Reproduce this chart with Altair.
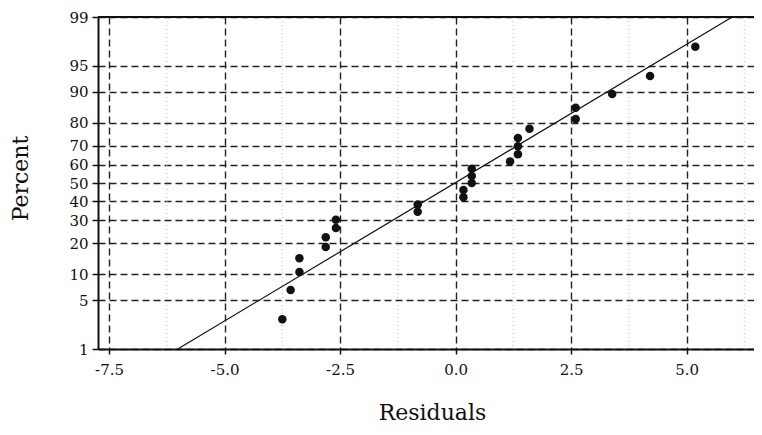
import altair as alt
import pandas as pd
from statistics import NormalDist, mean, stdev

# Residuals, in rank order
residuals = [-3.75, -3.57, -3.38, -3.38, -2.81, -2.81, -2.59, -2.59, -0.82, -0.82,
             0.17, 0.17, 0.35, 0.35, 0.35, 1.18, 1.35, 1.35, 1.35, 1.60,
             2.60, 2.60, 3.39, 4.21, 5.19]
# Percent (probability) positions
percents = [2.8, 6.7, 10.6, 14.6, 18.5, 22.4, 26.4, 30.3, 34.3, 38.2,
            42.1, 46.1, 50.0, 53.9, 57.9, 61.8, 65.7, 69.7, 73.6, 77.6,
            81.5, 85.4, 89.4, 93.3, 97.2]
x_ticks = [-7.5, -5.0, -2.5, 0.0, 2.5, 5.0]
minor_x = [-6.25, -3.75, -1.25, 1.25, 3.75, 6.25]
pct_ticks = [1, 5, 10, 20, 30, 40, 50, 60, 70, 80, 90, 95, 99]
line_pcts = [1, 99]

nd = NormalDist()


def probit(p):
    return nd.inv_cdf(p / 100.0)


pts = pd.DataFrame({"res": residuals, "pct": percents,
                    "z": [probit(p) for p in percents]})
mu = mean(residuals)
sd = stdev(residuals)
line_df = pd.DataFrame({"pct": line_pcts,
                        "z": [probit(p) for p in line_pcts],
                        "res": [mu + sd * probit(p) for p in line_pcts]})
minor_df = pd.DataFrame({"mx": minor_x})

W, H = 656, 332
FONT = "DejaVu Serif"

xscale = alt.Scale(domain=[-7.74, 6.46], nice=False, zero=False)
yscale = alt.Scale(domain=[probit(1), probit(99)], nice=False, zero=False)

x_axis = alt.Axis(values=x_ticks,
                  labelExpr="replace(format(datum.value, '.1f'), '\u2212', '-')",
                  grid=True, gridDash=[7, 4],
                  gridColor="#222", gridWidth=1.4, domainColor="#111",
                  domainWidth=2, tickColor="#111", tickWidth=1.5, tickSize=5,
                  labelPadding=8, labelFont=FONT, labelFontSize=15,
                  labelColor="#111", title="Residuals", titleFont=FONT,
                  titleFontSize=22, titleFontWeight="normal", titleColor="#111",
                  titleX=334, titleY=70, titleBaseline="alphabetic",
                  titleAlign="center")
y_axis = alt.Axis(values=[probit(p) for p in pct_ticks],
                  labelExpr="format(cumulativeNormal(datum.value) * 100, '.0f')",
                  grid=True, gridDash=[7, 4], gridColor="#222", gridWidth=1.4,
                  domainColor="#111", domainWidth=2, tickColor="#111",
                  tickWidth=1.5, tickSize=6, labelPadding=4, labelFont=FONT,
                  labelFontSize=15, labelColor="#111", title="Percent",
                  titleFont=FONT, titleFontSize=22, titleFontWeight="normal",
                  titleColor="#111", titleX=-71, titleY=161, titleAngle=270,
                  titleBaseline="alphabetic", titleAlign="center")

minor = alt.Chart(minor_df).mark_rule(color="#bbb", strokeDash=[1, 3],
                                      strokeWidth=1).encode(
    x=alt.X("mx:Q", scale=xscale, axis=x_axis)
)

fit = alt.Chart(line_df).mark_line(color="#111", strokeWidth=1.2).encode(
    x=alt.X("res:Q", scale=xscale, axis=x_axis),
    y=alt.Y("z:Q", scale=yscale, axis=y_axis),
)

points = alt.Chart(pts).mark_circle(color="#111", opacity=1, size=72).encode(
    x=alt.X("res:Q", scale=xscale, axis=x_axis),
    y=alt.Y("z:Q", scale=yscale, axis=y_axis),
)

top = alt.Chart(minor_df).mark_rule(color="#111", strokeWidth=2).encode(
    x=alt.value(0), x2=alt.value(W), y=alt.value(0)
)

chart = alt.layer(minor, fit, points, top).properties(
    width=W, height=H,
    autosize=alt.AutoSizeParams(type="none"),
    padding={"left": 90, "top": 9, "right": 0, "bottom": 78},
    background="white",
).configure_view(stroke=None)

chart.save("out.html", embed_options={"renderer": "svg", "actions": False})
